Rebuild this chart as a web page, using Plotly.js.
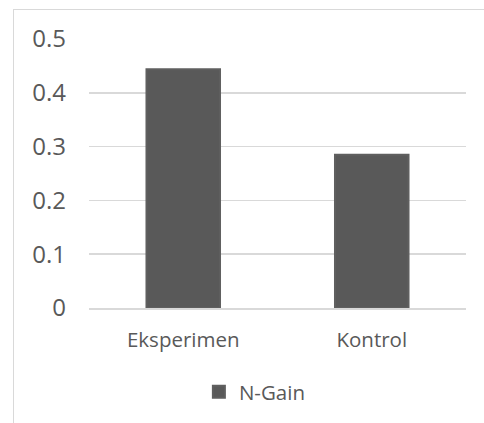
<!DOCTYPE html>
<html>
<head>
<meta charset="utf-8">
<script src="https://cdn.plot.ly/plotly-3.0.1.min.js"></script>
<style>
html,body{margin:0;padding:0;background:#fff;}
#wrap{position:relative;width:484px;height:423px;}
#chart{position:absolute;left:0;top:0;width:484px;height:423px;}
#frame{position:absolute;left:13px;top:9px;right:0;bottom:0;border-left:1.5px solid #d9d9d9;border-top:1.5px solid #d9d9d9;pointer-events:none;}
</style>
</head>
<body>
<div id="wrap"><div id="chart"></div><div id="frame"></div></div>
<script>
var categories = ["Eksperimen", "Kontrol"];
var nGain = [0.444, 0.285];
var seriesName = "N-Gain";
var yTicks = [0, 0.1, 0.2, 0.3, 0.4, 0.5];
var yTickLabels = ["0", "0.1", "0.2", "0.3", "0.4", "0.5"];

var trace = {
  type: "bar",
  x: categories,
  y: nGain,
  name: seriesName,
  marker: {color: "#595959", line: {color: "#5f5f5f", width: 2}},
  showlegend: true,
  hoverinfo: "x+y"
};

var layout = {
  width: 484,
  height: 423,
  margin: {l: 89, r: 18, t: 39, b: 114},
  paper_bgcolor: "rgba(0,0,0,0)",
  plot_bgcolor: "rgba(0,0,0,0)",
  bargap: 0.61,
  font: {family: "Open Sans, sans-serif", color: "#595959"},
  xaxis: {
    type: "category",
    showgrid: false,
    showline: true,
    linecolor: "#d9d9d9",
    linewidth: 1.5,
    ticks: "",
    tickfont: {size: 20.5, color: "#595959", family: "Open Sans, sans-serif"},
    ticklabelstandoff: 13
  },
  yaxis: {
    range: [0, 0.5],
    tickvals: yTicks,
    ticktext: yTickLabels,
    showgrid: true,
    gridcolor: "#d9d9d9",
    gridwidth: 1.5,
    zeroline: false,
    showline: false,
    ticks: "",
    tickfont: {size: 24, color: "#595959", family: "Open Sans, sans-serif"},
    ticklabelstandoff: 22
  },
  showlegend: true,
  legend: {
    orientation: "h",
    x: 0.44,
    xanchor: "center",
    y: -0.307,
    yanchor: "middle",
    font: {size: 20.5, color: "#595959", family: "Open Sans, sans-serif"},
    itemwidth: 30
  }
};

Plotly.newPlot("chart", [trace], layout, {displayModeBar: false, staticPlot: true});
</script>
</body>
</html>
